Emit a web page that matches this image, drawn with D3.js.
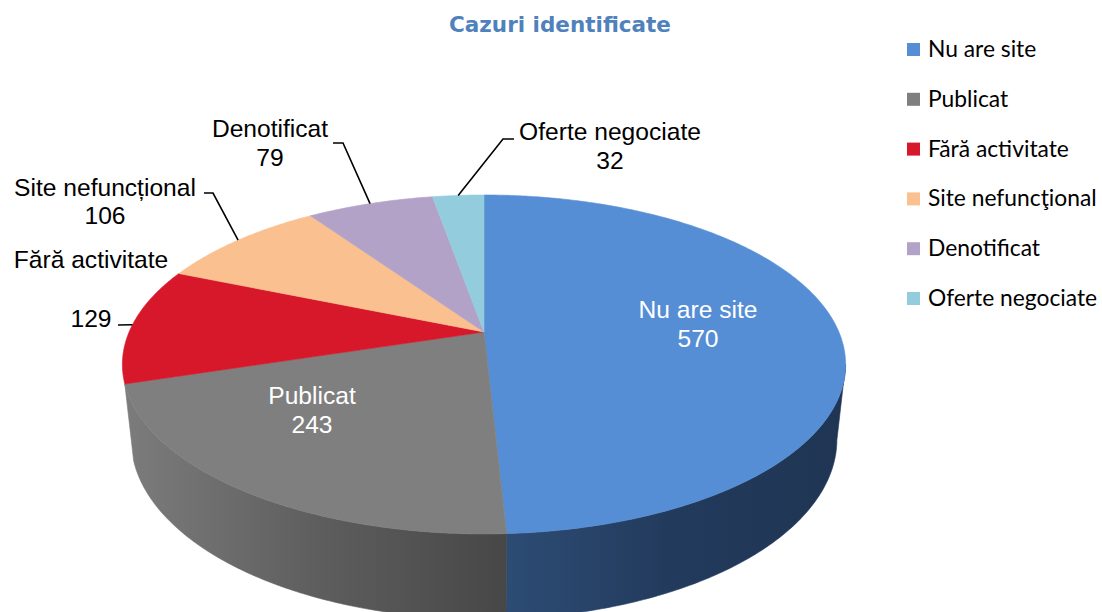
<!DOCTYPE html>
<html><head><meta charset="utf-8">
<script src="https://cdn.jsdelivr.net/npm/d3@7/dist/d3.min.js"></script>
<style>html,body{margin:0;padding:0;background:#fff;}svg{display:block;}</style>
</head><body>
<svg id="chart" width="1102" height="612"></svg>
<script>
// ---- data ----
const categories = ["Nu are site","Publicat","Fără activitate","Site nefuncțional","Denotificat","Oferte negociate"];
const values = [570,243,129,106,79,32];
const legendLabels = ["Nu are site","Publicat","Fără activitate","Site nefuncţional","Denotificat","Oferte negociate"];
const title = "Cazuri identificate";
const topColors  = ["#558ED5","#7F7F7F","#D7182A","#FAC090","#B3A2C7","#93CDDD"];
const wallStops  = [["#2D4C74","#223A5C","#1F3553"],["#7C7C7C","#5E5E5E","#474747"],["#A4121F","#9A101C","#8E0E19"],["#C89A70","#C09068","#B88860"],["#8E80A0","#867898","#7E7090"],["#74A4B0","#6C9CA8","#6494A0"]];

// ---- layout ----
const W = 1102, H = 612;
const svg = d3.select("#chart");
const P = {cx:484, cy:332, f:1645, D:4.635, phi:Math.asin(0.46), h:0.24};
const sP = Math.sin(P.phi), cP = Math.cos(P.phi);
function proj(theta, r, Y){
  const X = r*Math.sin(theta), Z = r*Math.cos(theta);
  const yc = Y*cP + Z*sP;
  const depth = P.D + Z*cP - Y*sP;
  return [P.cx + P.f*X/depth, P.cy - P.f*yc/depth];
}
const pie = d3.pie().sort(null).value(d=>d);
const arcs = pie(values);
const line = d3.line();
function arcPts(a0,a1,r,Y){
  const n = Math.max(2, Math.ceil((a1-a0)/0.01));
  return d3.range(n+1).map(i=>proj(a0+(a1-a0)*i/n, r, Y));
}
const defs = svg.append("defs");
// visible wall range
const tL = Math.acos(-cP/P.D), tR = 2*Math.PI - tL;
const walls = svg.append("g");
arcs.forEach((a,i)=>{
  const a0 = Math.max(a.startAngle, tL), a1 = Math.min(a.endAngle, tR);
  if (a1 - a0 < 0.15) return;
  const top = arcPts(a0,a1,1,0), bot = arcPts(a0,a1,1,-P.h).reverse();
  const xs = top.map(p=>p[0]).concat(bot.map(p=>p[0]));
  const g = defs.append("linearGradient").attr("id","wg"+i).attr("gradientUnits","userSpaceOnUse")
    .attr("x1", d3.min(xs)).attr("x2", d3.max(xs)).attr("y1",0).attr("y2",0);
  const st = wallStops[i];
  g.selectAll("stop").data(st).join("stop")
    .attr("offset",(d,k)=>k/(st.length-1)).attr("stop-color",d=>d);
  walls.append("path").attr("d", line(top.concat(bot))+"Z")
    .attr("fill","url(#wg"+i+")").attr("stroke","url(#wg"+i+")").attr("stroke-width",0.6);
});
// top faces
const tops = svg.append("g");
arcs.forEach((a,i)=>{
  const pts = [proj(0,0,0)].concat(arcPts(a.startAngle,a.endAngle,1,0));
  tops.append("path").attr("d", line(pts)+"Z")
    .attr("fill", topColors[i]).attr("stroke", topColors[i]).attr("stroke-width",0.6).attr("stroke-linejoin","round");
});

// title
svg.append("text").attr("x",560).attr("y",32).attr("text-anchor","middle")
  .attr("font-family","DejaVu Sans, Verdana, sans-serif").attr("font-weight","bold")
  .attr("font-size",21.5).attr("fill","#4F81BD").text(title);

// data labels (positions are layout)
const labelPos = [
  {x:698, y:[318,347], fill:"#fff"},
  {x:312, y:[404,433], fill:"#fff"},
  {x:91,  y:[268,327], fill:"#000", leader:[[118,325]]},
  {x:105, y:[196,224], fill:"#000", leader:[[204,193],[213,193]]},
  {x:270, y:[137,166], fill:"#000", leader:[[333,143],[343,143]]},
  {x:610, y:[140,169], fill:"#000", leader:[[514,139],[503,139]]}
];
const lbl = svg.append("g").attr("font-family","Liberation Sans, Arial, sans-serif").attr("font-size",24.6);
arcs.forEach((a,i)=>{
  const L = labelPos[i];
  const t = lbl.append("text").attr("text-anchor","middle").attr("fill",L.fill);
  t.append("tspan").attr("x",L.x).attr("y",L.y[0]).text(categories[i]);
  t.append("tspan").attr("x",L.x).attr("y",L.y[1]).text(values[i]);
  if (L.leader){
    const mid = (a.startAngle+a.endAngle)/2;
    const pts = L.leader.concat([proj(mid,1,0)]);
    lbl.append("path").attr("d", line(pts)).attr("fill","none").attr("stroke","#000").attr("stroke-width",1.6);
  }
});

// legend
const leg = svg.append("g").attr("font-family","Lato, Carlito, Calibri, sans-serif").attr("font-size",22.8);
legendLabels.forEach((s,i)=>{
  const y = 49 + i*49.8;
  leg.append("rect").attr("x",907).attr("y",y-6).attr("width",13).attr("height",13).attr("fill",topColors[i]);
  leg.append("text").attr("x",928).attr("y",y+8).attr("fill","#000").text(s);
});
</script>
</body></html>
